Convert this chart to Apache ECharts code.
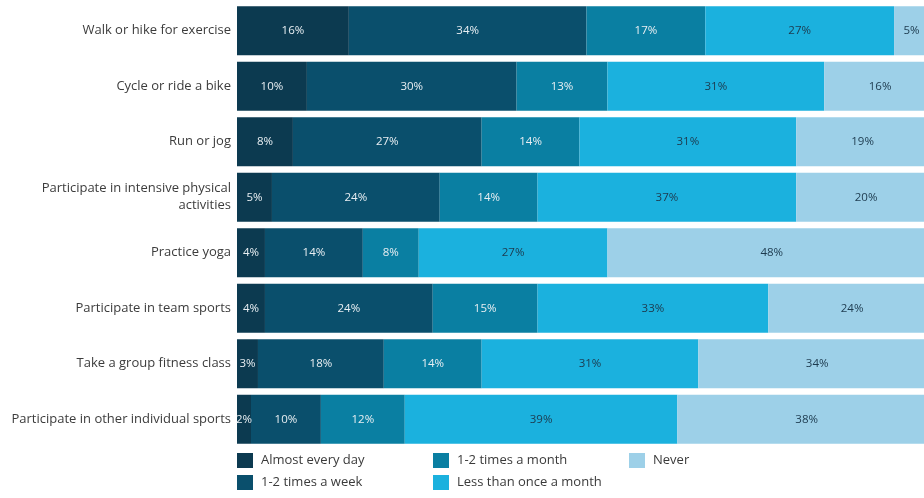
<!DOCTYPE html>
<html>
<head>
<meta charset="utf-8">
<script src="https://cdn.jsdelivr.net/npm/echarts@6/dist/echarts.min.js"></script>
<style>
  html, body { margin: 0; padding: 0; background: #ffffff; }
  #chart { width: 924px; height: 498px; }
</style>
</head>
<body>
<div id="chart"></div>
<script>
// Activities, listed top to bottom
const categories = [
  'Walk or hike for exercise',
  'Cycle or ride a bike',
  'Run or jog',
  'Participate in intensive physical\nactivities',
  'Practice yoga',
  'Participate in team sports',
  'Take a group fitness class',
  'Participate in other individual sports'
];

// Share of respondents (%) per frequency
const almostEveryDay   = [16, 10, 8, 5, 4, 4, 3, 2];
const timesAWeek       = [34, 30, 27, 24, 14, 24, 18, 10];
const timesAMonth      = [17, 13, 14, 14, 8, 15, 14, 12];
const lessThanMonthly  = [27, 31, 31, 37, 27, 33, 31, 39];
const never            = [5, 16, 19, 20, 48, 24, 34, 38];

const seriesNames = [
  'Almost every day',
  '1-2 times a week',
  '1-2 times a month',
  'Less than once a month',
  'Never'
];
const seriesData = [almostEveryDay, timesAWeek, timesAMonth, lessThanMonthly, never];
const colors = ['#0c3a50', '#0a4f6c', '#0a7fa2', '#1bb1de', '#9dd0e8'];
const labelColors = ['#e8eef2', '#e8eef2', '#e8eef2', '#1d3a4e', '#1d3a4e'];

const FONT = 'Open Sans';

const chart = echarts.init(document.getElementById('chart'), null, { renderer: 'canvas' });

const series = seriesNames.map((name, i) => ({
  name: name,
  type: 'bar',
  stack: 'total',
  barWidth: 49,
  data: seriesData[i],
  itemStyle: { color: colors[i] },
  label: {
    show: true,
    position: 'inside',
    formatter: '{c}%',
    color: labelColors[i],
    fontFamily: FONT,
    fontSize: 11.5
  },
  emphasis: { disabled: true }
}));

// One legend entry per block, laid out in three columns
const legendSlots = [
  { left: 237, top: 453 },
  { left: 237, top: 475 },
  { left: 433, top: 453 },
  { left: 433, top: 475 },
  { left: 629, top: 453 }
];
const legends = seriesNames.map((name, i) => ({
  left: legendSlots[i].left,
  top: legendSlots[i].top,
  padding: 0,
  itemWidth: 16,
  itemHeight: 15,
  icon: 'rect',
  data: [name],
  selectedMode: false,
  textStyle: { fontFamily: FONT, fontSize: 13, color: '#3a3a3a', padding: [0, 0, 0, 3] }
}));

chart.setOption({
  backgroundColor: '#ffffff',
  animation: false,
  // the plot runs past the right edge of the canvas
  grid: { left: 237, width: 699, top: 3, bottom: 51, containLabel: false, outerBoundsMode: 'none' },
  xAxis: {
    type: 'value',
    min: 0,
    max: 100,
    show: false
  },
  yAxis: {
    type: 'category',
    data: categories,
    inverse: true,
    axisLine: { show: false },
    axisTick: { show: false },
    axisLabel: {
      margin: 6,
      fontFamily: FONT,
      fontSize: 13,
      color: '#3c3c3c',
      lineHeight: 17,
      align: 'right'
    }
  },
  legend: legends,
  series: series
});
</script>
</body>
</html>
